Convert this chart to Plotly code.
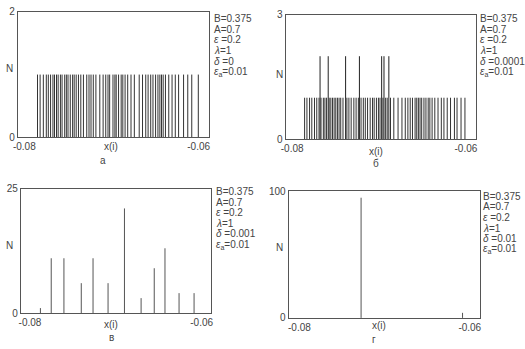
import plotly.graph_objects as go

W, H = 525, 349

# ---------------- data ----------------
a_x = [-0.07849, -0.07819, -0.07782, -0.07748, -0.07725, -0.07699, -0.07672, -0.07654,
       -0.07631, -0.07612, -0.07586, -0.07567, -0.07537, -0.07518, -0.07499, -0.07473,
       -0.07446, -0.07428, -0.07405, -0.07379, -0.07352, -0.07322, -0.07284, -0.07258,
       -0.07235, -0.07209, -0.07179, -0.07134, -0.07096, -0.07066, -0.07040, -0.07021,
       -0.06983, -0.06961, -0.06946, -0.06919, -0.06889, -0.06870, -0.06844, -0.06814,
       -0.06776, -0.06738, -0.06682, -0.06644, -0.06607, -0.06580, -0.06550, -0.06524,
       -0.06494, -0.06467, -0.06445, -0.06426, -0.06407, -0.06381, -0.06343, -0.06305,
       -0.06268, -0.06230, -0.06173, -0.06125, -0.06079, -0.06004]
a_n = [1] * len(a_x)

b_x_twice = [-0.07679, -0.07585, -0.07385, -0.07226, -0.06970, -0.06943, -0.06887]
b_x_once = [-0.07857, -0.07830, -0.07800, -0.07774, -0.07743, -0.07717, -0.07691, -0.07668,
            -0.07641, -0.07623, -0.07604, -0.07574, -0.07555, -0.07536, -0.07517, -0.07498,
            -0.07479, -0.07460, -0.07441, -0.07415, -0.07370, -0.07347, -0.07321, -0.07290,
            -0.07264, -0.07238, -0.07207, -0.07181, -0.07158, -0.07132, -0.07102, -0.07075,
            -0.07056, -0.07030, -0.07007, -0.06989, -0.06955, -0.06924, -0.06906, -0.06868,
            -0.06830, -0.06781, -0.06736, -0.06698, -0.06668, -0.06641, -0.06615, -0.06585,
            -0.06566, -0.06547, -0.06528, -0.06509, -0.06483, -0.06460, -0.06434, -0.06415,
            -0.06389, -0.06358, -0.06321, -0.06283, -0.06253, -0.06215, -0.06177, -0.06132,
            -0.06102, -0.06056, -0.06011]

c_x = [-0.07878, -0.07752, -0.07604, -0.07402, -0.07265, -0.07090,
       -0.06899, -0.06705, -0.06552, -0.06427, -0.06263, -0.06088]
c_n = [1, 11, 11, 6, 11, 6, 21, 3, 9, 13, 4, 4]

d_x = [-0.07276, -0.06085]
d_n = [95, 4]

y_max = [2, 3, 25, 100]
x_ticks = [-0.08, -0.06]
x_tick_text = ["-0.08", "-0.06"]
captions = ["а", "б", "в", "г"]
params_common = ["B=0.375", "A=0.7", "<i>ε</i> =0.2", "<i>λ</i>=1"]
delta_text = ["<i>δ</i> =0", "<i>δ</i> =0.0001", "<i>δ</i> =0.001", "<i>δ</i> =0.01"]
eps_a_text = "<i>ε</i><sub>a</sub>=0.01"

# ---------------- layout geometry (pixels) ----------------
boxes = [  # left, right, top, bottom
    (13, 207, 6, 136),
    (285, 478, 9, 138),
    (16, 209, 189, 318),
    (288, 482, 192, 323),
]
xranges = [
    [-0.08075, -0.05883],
    [-0.08075, -0.05887],
    [-0.08107, -0.05893],
    [-0.08127, -0.05884],
]
text_x = [210, 480, 212, 483]
text_y0 = [13, 13, 192, 197]
n_pos = [(5, 65), (279, 71), (5, 248), (279, 250)]
xi_pos = [(108, 146), (377, 151), (108, 330), (380, 331)]
cap_pos = [(100, 160), (377, 163), (108, 343), (375, 345)]

FONT = "Liberation Sans, Arial, sans-serif"
TXT = "#444444"


def px(x):
    return x / W


def py(y):
    return 1 - y / H


def stems(xs, ns):
    X, Y = [], []
    for x, n in zip(xs, ns):
        X += [x, x, None]
        Y += [0, n, None]
    return X, Y


fig = go.Figure()

series = [
    [(a_x, a_n, "#333333")],
    [(b_x_once, [1] * len(b_x_once), "#333333"), (b_x_twice, [2] * len(b_x_twice), "#222222")],
    [(c_x, c_n, "#555555")],
    [(d_x, d_n, "#555555")],
]

for i in range(4):
    sfx = "" if i == 0 else str(i + 1)
    for xs, ns, col in series[i]:
        X, Y = stems(xs, ns)
        fig.add_trace(go.Scatter(x=X, y=Y, mode="lines",
                                 line=dict(color=col, width=1),
                                 xaxis="x" + sfx, yaxis="y" + sfx,
                                 showlegend=False, hoverinfo="skip"))
    l, r, t, b = boxes[i]
    axis_common = dict(showgrid=False, zeroline=False, showline=True, mirror=True,
                       linecolor="#555555", linewidth=1, ticks="",
                       tickfont=dict(family=FONT, size=10, color=TXT))
    fig.layout["xaxis" + sfx] = dict(axis_common, domain=[px(l), px(r)], range=xranges[i],
                                     tickvals=x_ticks, ticktext=x_tick_text,
                                     anchor="y" + sfx)
    fig.layout["yaxis" + sfx] = dict(axis_common, domain=[py(b), py(t)], range=[0, y_max[i]],
                                     tickvals=[0, y_max[i]], anchor="x" + sfx)

    lines = params_common + [delta_text[i], eps_a_text]
    for k, s in enumerate(lines):
        fig.add_annotation(x=px(text_x[i]), y=py(text_y0[i] + 11 * k), xref="paper", yref="paper",
                           text=s, showarrow=False, xanchor="left", yanchor="middle",
                           font=dict(family=FONT, size=10, color=TXT))
    fig.add_annotation(x=px(n_pos[i][0]), y=py(n_pos[i][1]), xref="paper", yref="paper",
                       text="N", showarrow=False, xanchor="center", yanchor="middle",
                       font=dict(family=FONT, size=10, color=TXT))
    fig.add_annotation(x=px(xi_pos[i][0]), y=py(xi_pos[i][1]), xref="paper", yref="paper",
                       text="x(i)", showarrow=False, xanchor="center", yanchor="middle",
                       font=dict(family=FONT, size=10, color=TXT))
    fig.add_annotation(x=px(cap_pos[i][0]), y=py(cap_pos[i][1]), xref="paper", yref="paper",
                       text=captions[i], showarrow=False, xanchor="center", yanchor="middle",
                       font=dict(family=FONT, size=10, color=TXT))

fig.update_layout(width=W, height=H, margin=dict(l=0, r=0, t=0, b=0),
                  paper_bgcolor="white", plot_bgcolor="white", showlegend=False)

fig.write_html("out.html")
